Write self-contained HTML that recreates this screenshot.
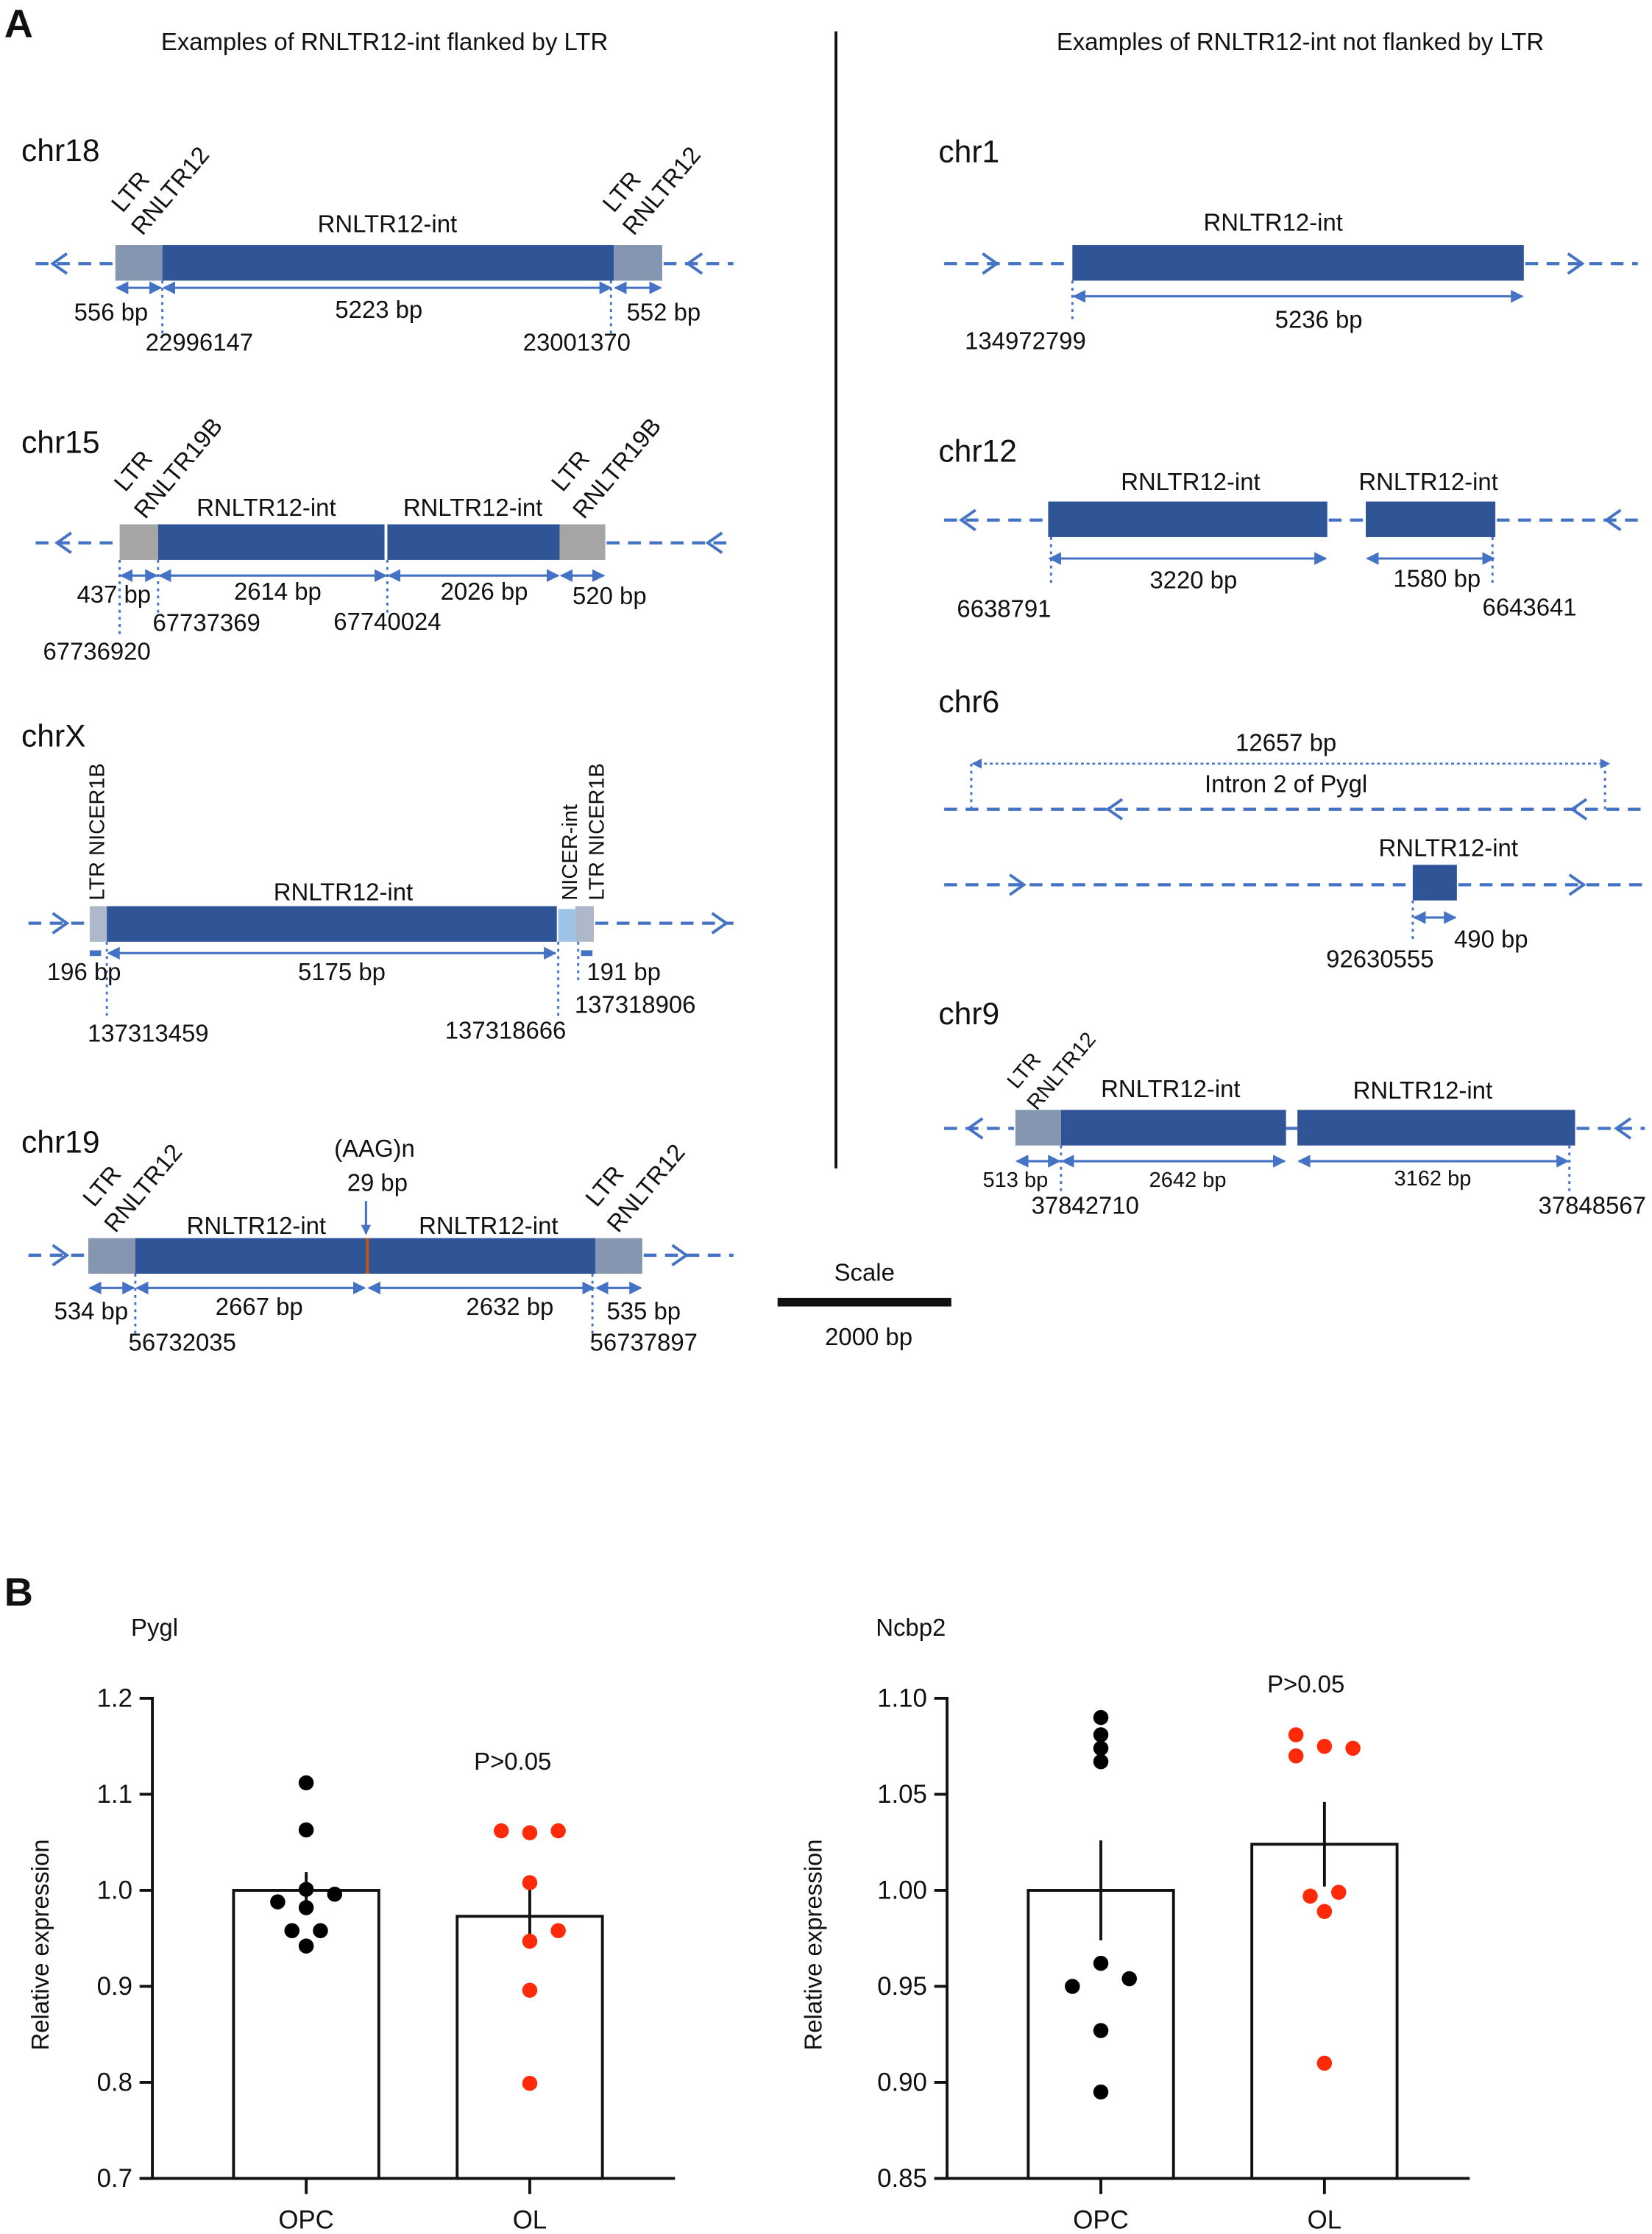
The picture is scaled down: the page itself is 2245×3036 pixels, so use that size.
<!DOCTYPE html>
<html><head><meta charset="utf-8"><style>
html,body{margin:0;padding:0;background:#fff}
svg{display:block}
text{font-family:"Liberation Sans Narrow","Liberation Sans",sans-serif;fill:#111}
.t{font-size:17px}
.h{font-family:"Liberation Sans",sans-serif;font-size:17px}
.chr{font-size:22px}
.dl{stroke:#4472c4;stroke-width:2.2;stroke-dasharray:9 6;fill:none}
.ch{stroke:#4472c4;stroke-width:2;fill:none}
.dim{stroke:#4472c4;stroke-width:1.6;marker-start:url(#ah);marker-end:url(#ah)}
.dot{stroke:#4472c4;stroke-width:1.5;stroke-dasharray:2 3}
.int{fill:#2f5597}
.ltr{fill:#8496b0}
.g15{fill:#a5a5a5}
.ax text{font-family:"Liberation Sans",sans-serif}
</style></head><body>
<svg id="fig" width="2245" height="3036" viewBox="0 0 1160 1568" preserveAspectRatio="none" xmlns="http://www.w3.org/2000/svg">
<defs>
<marker id="ah" viewBox="0 0 10 10" refX="9" refY="5" markerWidth="9" markerHeight="9" markerUnits="userSpaceOnUse" orient="auto-start-reverse"><path d="M0,0 L10,5 L0,10 z" fill="#4472c4"/></marker>
<marker id="sh" viewBox="0 0 10 10" refX="9" refY="5" markerWidth="7" markerHeight="7" markerUnits="userSpaceOnUse" orient="auto-start-reverse"><path d="M0,0 L10,5 L0,10 z" fill="#4472c4"/></marker>
</defs>

<g>
<text x="3" y="26" style="font-family:'Liberation Sans',sans-serif;font-weight:bold;font-size:28px">A</text>
<text class="h" x="270" y="35" text-anchor="middle">Examples of RNLTR12-int flanked by LTR</text>
<text class="h" x="913" y="35" text-anchor="middle">Examples of RNLTR12-int not flanked by LTR</text>
<line x1="587" y1="22" x2="587" y2="820" stroke="#111" stroke-width="2"/>

<g>
<text class="chr" x="15" y="113">chr18</text>
<line class="dl" x1="25" y1="185" x2="80" y2="185"/><line class="dl" x1="466" y1="185" x2="515" y2="185"/>
<polyline class="ch" points="47,178 37,185 47,192"/><polyline class="ch" points="493,178 483,185 493,192"/>
<rect class="ltr" x="81" y="172" width="33" height="25"/><rect class="int" x="114" y="172" width="317" height="25"/><rect class="ltr" x="431" y="172" width="34" height="25"/>
<text class="t" transform="translate(86,150) rotate(-50)">LTR</text><text class="t" transform="translate(100,166) rotate(-50)">RNLTR12</text>
<text class="t" transform="translate(431,150) rotate(-50)">LTR</text><text class="t" transform="translate(445,166) rotate(-50)">RNLTR12</text>
<text class="t" x="272" y="163" text-anchor="middle">RNLTR12-int</text>
<line class="dim" x1="82" y1="202" x2="113" y2="202"/><line class="dim" x1="115" y1="202" x2="429" y2="202"/><line class="dim" x1="432" y1="202" x2="464" y2="202"/>
<line class="dot" x1="114" y1="197" x2="114" y2="234"/><line class="dot" x1="429" y1="197" x2="429" y2="234"/>
<text class="t" x="78" y="225" text-anchor="middle">556 bp</text><text class="t" x="266" y="223" text-anchor="middle">5223 bp</text><text class="t" x="466" y="225" text-anchor="middle">552 bp</text>
<text class="t" x="140" y="246" text-anchor="middle">22996147</text><text class="t" x="405" y="246" text-anchor="middle">23001370</text>
</g>

<g>
<text class="chr" x="15" y="318">chr15</text>
<line class="dl" x1="25" y1="381" x2="83" y2="381"/><line class="dl" x1="426" y1="381" x2="515" y2="381"/>
<polyline class="ch" points="50,374 40,381 50,388"/><polyline class="ch" points="507,374 497,381 507,388"/>
<rect class="g15" x="84" y="368" width="27" height="25"/><rect class="int" x="111" y="368" width="159" height="25"/><rect class="int" x="272" y="368" width="121" height="25"/><rect class="g15" x="393" y="368" width="32" height="25"/>
<text class="t" transform="translate(88,346) rotate(-50)">LTR</text><text class="t" transform="translate(102,365) rotate(-50)">RNLTR19B</text>
<text class="t" transform="translate(395,346) rotate(-50)">LTR</text><text class="t" transform="translate(410,365) rotate(-50)">RNLTR19B</text>
<text class="t" x="187" y="362" text-anchor="middle">RNLTR12-int</text><text class="t" x="332" y="362" text-anchor="middle">RNLTR12-int</text>
<line class="dim" x1="85" y1="404" x2="110" y2="404"/><line class="dim" x1="112" y1="404" x2="271" y2="404"/><line class="dim" x1="273" y1="404" x2="392" y2="404"/><line class="dim" x1="394" y1="404" x2="424" y2="404"/>
<line class="dot" x1="84" y1="393" x2="84" y2="448"/><line class="dot" x1="111" y1="393" x2="111" y2="430"/><line class="dot" x1="272" y1="393" x2="272" y2="430"/>
<text class="t" x="80" y="423" text-anchor="middle">437 bp</text><text class="t" x="195" y="421" text-anchor="middle">2614 bp</text><text class="t" x="340" y="421" text-anchor="middle">2026 bp</text><text class="t" x="428" y="424" text-anchor="middle">520 bp</text>
<text class="t" x="145" y="443" text-anchor="middle">67737369</text><text class="t" x="272" y="442" text-anchor="middle">67740024</text><text class="t" x="68" y="463" text-anchor="middle">67736920</text>
</g>

<g>
<text class="chr" x="15" y="524">chrX</text>
<line class="dl" x1="20" y1="648" x2="62" y2="648"/><line class="dl" x1="418" y1="648" x2="515" y2="648"/>
<polyline class="ch" points="37,641 47,648 37,655"/><polyline class="ch" points="500,641 510,648 500,655"/>
<rect x="63" y="636" width="12" height="25" fill="#adb9ca"/><rect class="int" x="75" y="636" width="316" height="25"/><rect x="392" y="638" width="12" height="23" fill="#9dc3e6"/><rect x="404" y="636" width="13" height="25" fill="#adb9ca"/>
<text class="t" style="font-family:'Liberation Sans',sans-serif;font-size:15px" transform="translate(73,632) rotate(-90)">LTR NICER1B</text>
<text class="t" style="font-family:'Liberation Sans',sans-serif;font-size:15px" transform="translate(405,632) rotate(-90)">NICER-int</text>
<text class="t" style="font-family:'Liberation Sans',sans-serif;font-size:15px" transform="translate(424,632) rotate(-90)">LTR NICER1B</text>
<text class="t" x="241" y="632" text-anchor="middle">RNLTR12-int</text>
<line x1="63" y1="669" x2="71" y2="669" stroke="#4472c4" stroke-width="4"/><line class="dim" x1="76" y1="669" x2="390" y2="669"/><line x1="408" y1="669" x2="416" y2="669" stroke="#4472c4" stroke-width="4"/>
<line class="dot" x1="75" y1="661" x2="75" y2="714"/><line class="dot" x1="392" y1="661" x2="392" y2="714"/><line class="dot" x1="406" y1="661" x2="406" y2="690"/>
<text class="t" x="59" y="688" text-anchor="middle">196 bp</text><text class="t" x="240" y="688" text-anchor="middle">5175 bp</text><text class="t" x="438" y="688" text-anchor="middle">191 bp</text>
<text class="t" x="104" y="731" text-anchor="middle">137313459</text><text class="t" x="355" y="729" text-anchor="middle">137318666</text><text class="t" x="446" y="711" text-anchor="middle">137318906</text>
</g>

<g>
<text class="chr" x="15" y="809">chr19</text>
<line class="dl" x1="20" y1="881" x2="61" y2="881"/><line class="dl" x1="452" y1="881" x2="515" y2="881"/>
<polyline class="ch" points="37,874 47,881 37,888"/><polyline class="ch" points="472,874 482,881 472,888"/>
<rect class="ltr" x="62" y="869" width="33" height="25"/><rect class="int" x="95" y="869" width="323" height="25"/><rect class="ltr" x="418" y="869" width="33" height="25"/>
<line x1="258" y1="869" x2="258" y2="894" stroke="#c55a11" stroke-width="2"/>
<text class="t" transform="translate(66,848) rotate(-50)">LTR</text><text class="t" transform="translate(81,866) rotate(-50)">RNLTR12</text>
<text class="t" transform="translate(419,848) rotate(-50)">LTR</text><text class="t" transform="translate(434,866) rotate(-50)">RNLTR12</text>
<text class="t" x="180" y="866" text-anchor="middle">RNLTR12-int</text><text class="t" x="343" y="866" text-anchor="middle">RNLTR12-int</text>
<text class="t" x="263" y="812" text-anchor="middle">(AAG)n</text><text class="t" x="265" y="836" text-anchor="middle">29 bp</text>
<line x1="257" y1="843" x2="257" y2="866" stroke="#4472c4" stroke-width="1.6" marker-end="url(#sh)"/>
<line class="dim" x1="63" y1="904" x2="94" y2="904"/><line class="dim" x1="96" y1="904" x2="256" y2="904"/><line class="dim" x1="259" y1="904" x2="417" y2="904"/><line class="dim" x1="419" y1="904" x2="450" y2="904"/>
<line class="dot" x1="95" y1="894" x2="95" y2="936"/><line class="dot" x1="416" y1="894" x2="416" y2="936"/>
<text class="t" x="64" y="926" text-anchor="middle">534 bp</text><text class="t" x="182" y="923" text-anchor="middle">2667 bp</text><text class="t" x="358" y="923" text-anchor="middle">2632 bp</text><text class="t" x="452" y="926" text-anchor="middle">535 bp</text>
<text class="t" x="128" y="948" text-anchor="middle">56732035</text><text class="t" x="452" y="948" text-anchor="middle">56737897</text>
</g>

<g>
<text class="h" x="607" y="899" text-anchor="middle">Scale</text>
<rect x="546" y="911" width="122" height="6" fill="#111"/>
<text class="h" x="610" y="944" text-anchor="middle">2000 bp</text>
</g>

<g>
<text class="chr" x="659" y="114">chr1</text>
<line class="dl" x1="663" y1="185" x2="752" y2="185"/><line class="dl" x1="1071" y1="185" x2="1150" y2="185"/>
<polyline class="ch" points="690,178 700,185 690,192"/><polyline class="ch" points="1101,178 1111,185 1101,192"/>
<rect class="int" x="753" y="172" width="317" height="25"/>
<text class="t" x="894" y="162" text-anchor="middle">RNLTR12-int</text>
<line class="dim" x1="754" y1="208" x2="1069" y2="208"/>
<line class="dot" x1="753" y1="197" x2="753" y2="226"/>
<text class="t" x="926" y="230" text-anchor="middle">5236 bp</text>
<text class="t" x="720" y="245" text-anchor="middle">134972799</text>
</g>

<g>
<text class="chr" x="659" y="324">chr12</text>
<line class="dl" x1="663" y1="365" x2="735" y2="365"/><line class="dl" x1="933" y1="365" x2="958" y2="365"/><line class="dl" x1="1051" y1="365" x2="1155" y2="365"/>
<polyline class="ch" points="685,358 675,365 685,372"/><polyline class="ch" points="1138,358 1128,365 1138,372"/>
<rect class="int" x="736" y="352" width="196" height="25"/><rect class="int" x="959" y="352" width="91" height="25"/>
<text class="t" x="836" y="344" text-anchor="middle">RNLTR12-int</text><text class="t" x="1003" y="344" text-anchor="middle">RNLTR12-int</text>
<line class="dim" x1="737" y1="392" x2="931" y2="392"/><line class="dim" x1="960" y1="392" x2="1049" y2="392"/>
<line class="dot" x1="738" y1="377" x2="738" y2="410"/><line class="dot" x1="1048" y1="377" x2="1048" y2="410"/>
<text class="t" x="838" y="413" text-anchor="middle">3220 bp</text><text class="t" x="1009" y="412" text-anchor="middle">1580 bp</text>
<text class="t" x="705" y="433" text-anchor="middle">6638791</text><text class="t" x="1074" y="432" text-anchor="middle">6643641</text>
</g>

<g>
<text class="chr" x="659" y="500">chr6</text>
<line x1="683" y1="536" x2="1130" y2="536" stroke="#4472c4" stroke-width="1.3" stroke-dasharray="2 2" marker-start="url(#sh)" marker-end="url(#sh)"/>
<line class="dot" x1="682" y1="536" x2="682" y2="568"/><line class="dot" x1="1127" y1="536" x2="1127" y2="568"/>
<text class="t" x="903" y="527" text-anchor="middle">12657 bp</text>
<text class="t" x="903" y="556" text-anchor="middle">Intron 2 of Pygl</text>
<line class="dl" x1="663" y1="568" x2="1155" y2="568"/>
<polyline class="ch" points="788,561 778,568 788,575"/><polyline class="ch" points="1114,561 1104,568 1114,575"/>
<line class="dl" x1="663" y1="621" x2="991" y2="621"/><line class="dl" x1="1024" y1="621" x2="1155" y2="621"/>
<polyline class="ch" points="709,614 719,621 709,628"/><polyline class="ch" points="1102,614 1112,621 1102,628"/>
<rect class="int" x="992" y="607" width="31" height="25"/>
<text class="t" x="1017" y="601" text-anchor="middle">RNLTR12-int</text>
<line class="dim" x1="993" y1="644" x2="1022" y2="644"/>
<line class="dot" x1="992" y1="632" x2="992" y2="660"/>
<text class="t" x="1047" y="665" text-anchor="middle">490 bp</text>
<text class="t" x="969" y="679" text-anchor="middle">92630555</text>
</g>

<g>
<text class="chr" x="659" y="719">chr9</text>
<line class="dl" x1="663" y1="792" x2="712" y2="792"/><line class="dl" x1="903" y1="792" x2="911" y2="792"/><line class="dl" x1="1107" y1="792" x2="1155" y2="792"/>
<polyline class="ch" points="690,785 680,792 690,799"/><polyline class="ch" points="1145,785 1135,792 1145,799"/>
<rect class="ltr" x="713" y="779" width="32" height="25"/><rect class="int" x="745" y="779" width="158" height="25"/><rect class="int" x="911" y="779" width="195" height="25"/>
<text class="t" style="font-size:15px" transform="translate(714,765) rotate(-50)">LTR</text><text class="t" style="font-size:15px" transform="translate(728,780) rotate(-50)">RNLTR12</text>
<text class="t" x="822" y="770" text-anchor="middle">RNLTR12-int</text><text class="t" x="999" y="771" text-anchor="middle">RNLTR12-int</text>
<line class="dim" x1="714" y1="815" x2="744" y2="815"/><line class="dim" x1="746" y1="815" x2="902" y2="815"/><line class="dim" x1="912" y1="815" x2="1101" y2="815"/>
<line class="dot" x1="745" y1="804" x2="745" y2="838"/><line class="dot" x1="1102" y1="804" x2="1102" y2="838"/>
<text class="t" style="font-size:15px" x="713" y="833" text-anchor="middle">513 bp</text><text class="t" style="font-size:15px" x="834" y="833" text-anchor="middle">2642 bp</text><text class="t" style="font-size:15px" x="1006" y="832" text-anchor="middle">3162 bp</text>
<text class="t" x="762" y="852" text-anchor="middle">37842710</text><text class="t" x="1118" y="852" text-anchor="middle">37848567</text>
</g>
</g>

<text x="3" y="1127" style="font-family:'Liberation Sans',sans-serif;font-weight:bold;font-size:28px">B</text>
<g id="chartL" class="ax"></g>
<g id="chartR" class="ax"></g>
</svg>
<script>
const groups = ["OPC", "OL"];
const pyglTicks = ["0.7", "0.8", "0.9", "1.0", "1.1", "1.2"];
const pyglTickVals = [0.7, 0.8, 0.9, 1.0, 1.1, 1.2];
const pyglMeans = [1.0, 0.973];
const pyglSem = [0.019, 0.031];
const pyglOPC = [1.112, 1.063, 1.001, 0.996, 0.988, 0.982, 0.958, 0.958, 0.942];
const pyglOPCcol = [0, 0, 0, 1, -1, 0, -0.5, 0.5, 0];
const pyglOL = [1.062, 1.060, 1.062, 1.008, 0.958, 0.947, 0.896, 0.799];
const pyglOLcol = [-1, 0, 1, 0, 1, 0, 0, 0];
const ncbpTicks = ["0.85", "0.90", "0.95", "1.00", "1.05", "1.10"];
const ncbpTickVals = [0.85, 0.90, 0.95, 1.00, 1.05, 1.10];
const ncbpMeans = [1.0, 1.024];
const ncbpSem = [0.026, 0.022];
const ncbpOPC = [1.090, 1.081, 1.074, 1.067, 0.962, 0.954, 0.950, 0.927, 0.895];
const ncbpOPCcol = [0, 0, 0, 0, 0, 1, -1, 0, 0];
const ncbpOL = [1.081, 1.070, 1.075, 1.074, 0.999, 0.997, 0.989, 0.910];
const ncbpOLcol = [-1, -1, 0, 1, 0.5, -0.5, 0, 0];

const NS = "http://www.w3.org/2000/svg";
function mk(parent, tag, attrs, txt) {
  const e = document.createElementNS(NS, tag);
  for (const k in attrs) e.setAttribute(k, attrs[k]);
  if (txt !== undefined) e.textContent = txt;
  parent.appendChild(e);
  return e;
}
function chart(g, o) {
  const yTop = 1192, yBot = 1529;
  const lo = o.tickVals[0], hi = o.tickVals[o.tickVals.length - 1];
  const y = v => yBot - (v - lo) / (hi - lo) * (yBot - yTop);
  const cx = [o.ax + 108, o.ax + 265];
  const t = mk(g, "text", {x: o.tx, y: 1148, "font-size": 17}, o.title);
  
  
  const yl = mk(g, "text", {transform: `translate(${o.ylx},1365) rotate(-90)`, "text-anchor": "middle", "font-size": 17}, "Relative expression");
  
  
  o.tickVals.forEach((v, i) => {
    const tk = mk(g, "line", {x1: o.ax - 9, x2: o.ax, y1: y(v), y2: y(v), stroke: "#111", "stroke-width": 2});
    
    
    const tl = mk(g, "text", {x: o.ax - 14, y: y(v) + 6, "text-anchor": "end", "font-size": 18}, o.ticks[i]);
    
    
  });
  groups.forEach((gname, i) => {
    const b = mk(g, "rect", {x: cx[i] - 51, y: y(o.means[i]), width: 102, height: yBot - y(o.means[i]), fill: "#fff", stroke: "#111", "stroke-width": 2});
    
    
    const eb = mk(g, "line", {x1: cx[i], x2: cx[i], y1: y(o.means[i] + o.sem[i]), y2: y(o.means[i] - o.sem[i]), stroke: "#111", "stroke-width": 2});
    
    
    const xt = mk(g, "line", {x1: cx[i], x2: cx[i], y1: yBot, y2: yBot + 11, stroke: "#111", "stroke-width": 2});
    
    
    const xl = mk(g, "text", {x: cx[i], y: yBot + 35, "text-anchor": "middle", "font-size": 18}, gname);
    
    
  });
  const pts = [[o.opc, o.opcCol, "#000", 0], [o.ol, o.olCol, "#ff2a0a", 1]];
  pts.forEach(([vals, cols, col, gi]) => {
    vals.forEach((v, j) => {
      const c = mk(g, "circle", {cx: cx[gi] + cols[j] * 20, cy: y(v), r: 5.3, fill: col});
      
      
    });
  });
  const ya = mk(g, "line", {x1: o.ax, x2: o.ax, y1: yTop - 1, y2: yBot + 1, stroke: "#111", "stroke-width": 2});
  
  
  const xa = mk(g, "line", {x1: o.ax - 9, x2: o.ax + 367, y1: yBot, y2: yBot, stroke: "#111", "stroke-width": 2});
  
  
  const p = mk(g, "text", {x: o.px, y: o.py, "text-anchor": "middle", "font-size": 17}, "P>0.05");
  
  
}
chart(document.getElementById("chartL"), {ax: 107, tx: 92, ylx: 34, title: "Pygl", ticks: pyglTicks, tickVals: pyglTickVals, means: pyglMeans, sem: pyglSem, opc: pyglOPC, opcCol: pyglOPCcol, ol: pyglOL, olCol: pyglOLcol, px: 360, py: 1242});
chart(document.getElementById("chartR"), {ax: 665, tx: 615, ylx: 577, title: "Ncbp2", ticks: ncbpTicks, tickVals: ncbpTickVals, means: ncbpMeans, sem: ncbpSem, opc: ncbpOPC, opcCol: ncbpOPCcol, ol: ncbpOL, olCol: ncbpOLcol, px: 917, py: 1188});
</script>
</body></html>
